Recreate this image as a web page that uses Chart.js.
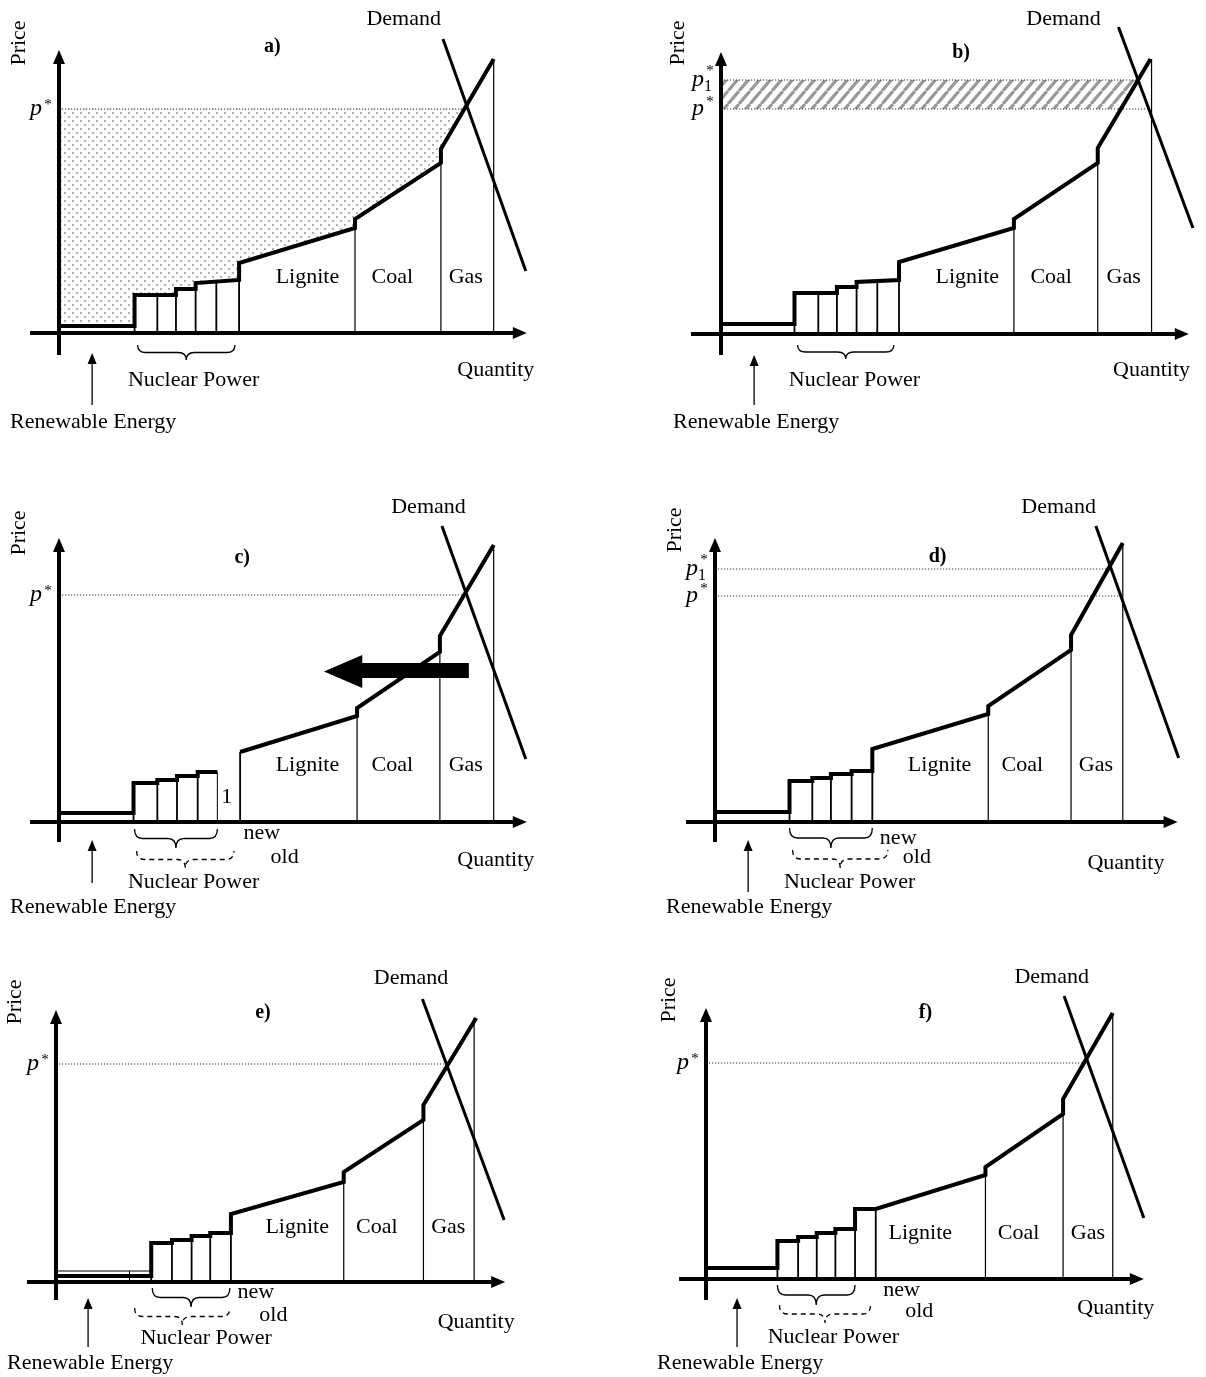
<!DOCTYPE html>
<html lang="en">
<head>
<meta charset="UTF-8">
<title>Merit order</title>
<script src="https://cdn.jsdelivr.net/npm/chart.js"></script>
<style>
  body { margin: 0; background: #fff; }
  .painel { position: relative; width: 1206px; height: 1377px; background: #fff; }
  .painel canvas { position: absolute; }
</style>
</head>
<body>
<div class="painel">
  <canvas id="chartA" width="560" height="450" style="left:0;top:0"></canvas>
  <canvas id="chartB" width="566" height="450" style="left:640px;top:0"></canvas>
  <canvas id="chartC" width="560" height="452" style="left:0;top:478px"></canvas>
  <canvas id="chartD" width="566" height="452" style="left:640px;top:478px"></canvas>
  <canvas id="chartE" width="560" height="429" style="left:0;top:948px"></canvas>
  <canvas id="chartF" width="566" height="429" style="left:640px;top:948px"></canvas>
</div>

<script>
    // supply curves [quantity, price], one per panel
    const supplyA = [[0,7],[73,7],[73,38],[113,38],[113,44],[132,44],[132,50],[174,53],[174,70],[286,105],[286,114],[369,170],[369,184],[420,274]];
    const supplyB = [[0,10],[71,10],[71,41],[112,41],[112,47],[131,47],[131,52],[172,54],[172,72],[283,106],[283,115],[364,171],[364,186],[415,275]];
    const supplyC = [[0,9],[72,9],[72,39],[95,39],[95,42],[114,42],[114,46],[134,46],[134,50],[153,50],[153,null],[175,70],[288,106],[288,114],[368,170],[368,186],[420,277]];
    const supplyD = [[0,10],[72,10],[72,41],[94,41],[94,44],[112,44],[112,48],[132,48],[132,51],[152,51],[152,73],[264,108],[264,116],[344,172],[344,187],[394,279]];
    const supplyE = [[0,6],[92,6],[92,39],[112,39],[112,42],[131,42],[131,46],[149,46],[149,49],[169,49],[169,68],[278,100],[278,110],[355,162],[355,177],[406,264]];
    const supplyF = [[0,11],[69,11],[69,38],[89,38],[89,42],[107,42],[107,46],[125,46],[125,50],[144,50],[144,70],[164,70],[270,104],[270,112],[345,165],[345,180],[393,266]];

    // demand lines
    const demandA = [[371,294],[451,62]];
    const demandB = [[384,307],[456,106]];
    const demandC = [[370,296],[451,63]];
    const demandD = [[368,296],[448,64]];
    const demandE = [[354,283],[433,62]];
    const demandF = [[346,283],[423,61]];

    // nuclear block edges [quantity, top price]
    const nuclearA = [[73,38],[95,38],[113,44],[132,50],[152,51],[174,53]];
    const nuclearB = [[71,41],[94,41],[112,47],[131,52],[151,53],[172,54]];
    const nuclearC = [[72,39],[95,42],[114,46],[134,50],[175,70]];
    const nuclearD = [[72,41],[94,44],[112,48],[132,51],[152,51]];
    const nuclearE = [[92,39],[112,42],[131,46],[149,49],[169,49]];
    const nuclearF = [[69,38],[89,42],[107,46],[125,50],[144,50],[164,70]];
    const shutC = [[153,50]];

    // lignite / coal / gas right edges
    const plantNames = ['Lignite', 'Coal', 'Gas'];
    const plantsA = [[286,105],[369,170],[420,274]];
    const plantsB = [[283,106],[364,171],[416,275]];
    const plantsC = [[288,106],[368,170],[420,277]];
    const plantsD = [[264,108],[344,172],[394,279]];
    const plantsE = [[278,100],[355,162],[404,264]];
    const plantsF = [[270,104],[345,165],[393,266]];

    // old renewable supply in e)
    const oldRenewE = [[0,11],[92,11]];
    const oldEdgeE = [[71,11]];

    // equilibrium prices and how far the dotted lines reach
    const pStarA = 224, pReachA = 390;
    const pStarB = 225, pReachB = 414, p1StarB = 254, p1ReachB = 401;
    const pStarC = 227, pReachC = 391;
    const pStarD = 226, pReachD = 393, p1StarD = 253, p1ReachD = 380;
    const pStarE = 218, pReachE = 376;
    const pStarF = 216, pReachF = 366;

    const K = 1.035; // pixels per quantity unit
    const serif = '"Liberation Serif", "Times New Roman", serif';

    function pts(a) { return a.map(([x, y]) => ({x, y})); }
    function edges(a) { return a.flatMap(([x, top]) => [{x, y: 0}, {x, y: top}, {x, y: null}]); }
    function hLine(p, reach) { return [{x: 0, y: p}, {x: reach, y: p}]; }

    function linha(data, w, extra) {
        return Object.assign({
            data: data, borderColor: '#000', borderWidth: w, pointRadius: 0,
            fill: false, tension: 0, borderJoinStyle: 'miter', spanGaps: false
        }, extra || {});
    }
    function pontilhado(data) {
        return linha(data, 1, {borderColor: '#333', borderDash: [1.2, 1.8]});
    }
    function preenche(supply, value, cor) {
        return linha(pts(supply), 1, {borderColor: 'rgba(0,0,0,0)',
            fill: {target: {value: value}, above: 'rgba(0,0,0,0)', below: cor}});
    }

    function padraoPontos() {
        const c = document.createElement('canvas');
        c.width = 8; c.height = 8;
        const g = c.getContext('2d');
        g.fillStyle = '#b0b0b0';
        g.fillRect(0, 0, 2, 2);
        g.fillRect(4, 4, 2, 2);
        return g.createPattern(c, 'repeat');
    }
    function padraoListras() {
        const c = document.createElement('canvas');
        c.width = 11; c.height = 13;
        const g = c.getContext('2d');
        g.strokeStyle = '#999';
        g.lineWidth = 3.2;
        g.beginPath();
        for (const dx of [-11, 0, 11]) { g.moveTo(dx, 13); g.lineTo(dx + 11, 0); }
        g.stroke();
        return g.createPattern(c, 'repeat');
    }

    function tri(g, a, b, c) {
        g.beginPath(); g.moveTo(a[0], a[1]); g.lineTo(b[0], b[1]); g.lineTo(c[0], c[1]); g.closePath(); g.fill();
    }
    function texto(g, s, x, y, font) {
        g.font = font || '22px ' + serif;
        g.textAlign = 'center'; g.textBaseline = 'middle';
        g.fillText(s, x, y);
    }
    function chave(g, x1, x2, yTop, yTip, tracejada) {
        const xm = (x1 + x2) / 2, ym = (yTop + yTip) / 2, r = 8;
        g.save();
        g.lineWidth = 1.3;
        g.setLineDash(tracejada ? [5, 4] : []);
        g.beginPath();
        g.moveTo(x1, yTop);
        g.quadraticCurveTo(x1, ym, x1 + r, ym);
        g.lineTo(xm - r, ym);
        g.quadraticCurveTo(xm, ym, xm, yTip);
        g.quadraticCurveTo(xm, ym, xm + r, ym);
        g.lineTo(x2 - r, ym);
        g.quadraticCurveTo(x2, ym, x2, yTop);
        g.stroke();
        g.restore();
    }

    function decor(L) {
        return {
            id: 'decor',
            afterDatasetsDraw(chart) {
                const g = chart.ctx;
                const X = v => chart.scales.x.getPixelForValue(v);
                const Y = v => chart.scales.y.getPixelForValue(v);
                g.save();
                g.fillStyle = '#000'; g.strokeStyle = '#000'; g.setLineDash([]);

                // axes
                const x0 = X(0), y0 = Y(0), xe = X(L.axisX[1]), ye = Y(L.axisY[1]);
                g.lineWidth = 4;
                g.beginPath();
                g.moveTo(X(L.axisX[0]), y0); g.lineTo(xe - 8, y0);
                g.moveTo(x0, Y(L.axisY[0])); g.lineTo(x0, ye + 8);
                g.stroke();
                tri(g, [xe, y0], [xe - 14, y0 - 6], [xe - 14, y0 + 6]);
                tri(g, [x0, ye], [x0 - 6, ye + 14], [x0 + 6, ye + 14]);

                // Price (rotated)
                g.save();
                g.translate(X(L.price[0]), Y(L.price[1]));
                g.rotate(-Math.PI / 2);
                texto(g, 'Price', 0, 0);
                g.restore();

                texto(g, L.tag[0], X(L.tag[1]), Y(L.tag[2]), 'bold 20px ' + serif);
                texto(g, 'Demand', X(L.demand[0]), Y(L.demand[1]));
                plantNames.forEach((n, i) => texto(g, n, X(L.plants[i][0]), Y(L.plants[i][1])));
                texto(g, 'Quantity', X(L.quantity[0]), Y(L.quantity[1]));
                texto(g, 'Nuclear Power', X(L.nuclear[0]), Y(L.nuclear[1]));
                texto(g, 'Renewable Energy', X(L.renew[0]), Y(L.renew[1]));
                if (L.newOld) {
                    texto(g, 'new', X(L.newOld[0]), Y(L.newOld[1]));
                    texto(g, 'old', X(L.newOld[2]), Y(L.newOld[3]));
                }
                if (L.one) texto(g, '1', X(L.one[0]), Y(L.one[1]));

                // p* labels
                L.pMarks.forEach(m => {
                    const yp = Y(m.y);
                    g.textAlign = 'center'; g.textBaseline = 'alphabetic';
                    g.font = 'italic 24px ' + serif;
                    g.fillText('p', x0 - 23, yp + 6);
                    g.font = '15px ' + serif;
                    g.fillText('*', x0 - 11, yp + m.star + 8);
                    if (m.sub) {
                        g.font = '16px ' + serif;
                        g.fillText('1', x0 - 13, yp + 11);
                    }
                });

                // renewable arrow
                const ra = L.renewArrow;
                g.lineWidth = 1.3;
                g.beginPath();
                g.moveTo(X(ra[0]), Y(ra[1])); g.lineTo(X(ra[0]), Y(ra[2]) + 8);
                g.stroke();
                tri(g, [X(ra[0]), Y(ra[2])], [X(ra[0]) - 4.5, Y(ra[2]) + 11], [X(ra[0]) + 4.5, Y(ra[2]) + 11]);

                // braces
                const b = L.brace;
                chave(g, X(b[0]), X(b[1]), Y(b[2]), Y(b[3]), false);
                if (L.brace2) {
                    const d = L.brace2;
                    chave(g, X(d[0]), X(d[1]), Y(d[2]), Y(d[3]), true);
                }

                // shift arrow in c)
                if (L.bigArrow) {
                    const a = L.bigArrow;
                    g.beginPath();
                    g.moveTo(X(a.tail), Y(a.shaft[0]));
                    g.lineTo(X(a.base), Y(a.shaft[0]));
                    g.lineTo(X(a.base), Y(a.head[0]));
                    g.lineTo(X(a.tip), Y((a.head[0] + a.head[1]) / 2));
                    g.lineTo(X(a.base), Y(a.head[1]));
                    g.lineTo(X(a.base), Y(a.shaft[1]));
                    g.lineTo(X(a.tail), Y(a.shaft[1]));
                    g.closePath();
                    g.fill();
                }
                g.restore();
            }
        };
    }

    function desenhar(L, sets) {
        const cv = document.getElementById(L.canvas);
        const W = cv.width, H = cv.height;
        return new Chart(cv, {
            type: 'line',
            data: { datasets: sets },
            options: {
                responsive: false,
                animation: false,
                devicePixelRatio: 1,
                events: [],
                layout: { padding: 0 },
                plugins: { legend: { display: false }, tooltip: { enabled: false } },
                scales: {
                    x: { type: 'linear', display: false, min: -L.ox / K, max: (W - L.ox) / K },
                    y: { type: 'linear', display: false, min: -(H - L.oy), max: L.oy }
                }
            },
            plugins: [decor(L)]
        });
    }

    const pontos = padraoPontos();
    const listras = padraoListras();

    desenhar({
        canvas: 'chartA', ox: 59, oy: 333, axisX: [-28, 452], axisY: [-22, 283],
        price: [-38, 290], tag: ['a)', 206, 286], demand: [333, 314],
        plants: [[240, 56], [322, 56], [393, 56]], quantity: [422, -37],
        nuclear: [130, -47], renew: [33, -89], renewArrow: [32, -72, -20],
        brace: [76, 170, -12, -27], pMarks: [{y: pStarA, star: -8}]
    }, [
        linha(pts(supplyA), 4), linha(pts(demandA), 3),
        linha(edges(nuclearA), 1.8), linha(edges(plantsA), 1.2),
        pontilhado(hLine(pStarA, pReachA)),
        preenche(supplyA, pStarA, pontos)
    ]);

    desenhar({
        canvas: 'chartB', ox: 81, oy: 334, axisX: [-29, 452], axisY: [-21, 282],
        price: [-41, 291], tag: ['b)', 232, 281], demand: [331, 315],
        plants: [[238, 57], [319, 57], [389, 57]], quantity: [416, -36],
        nuclear: [129, -46], renew: [34, -88], renewArrow: [32, -71, -21],
        brace: [74, 167, -11, -25],
        pMarks: [{y: p1StarB, star: -13, sub: true}, {y: pStarB, star: -11}]
    }, [
        linha(pts(supplyB), 4), linha(pts(demandB), 3),
        linha(edges(nuclearB), 1.8), linha(edges(plantsB), 1.2),
        pontilhado(hLine(p1StarB, p1ReachB)), pontilhado(hLine(pStarB, pReachB)),
        preenche(supplyB, pStarB, '#fff'),
        preenche(supplyB, p1StarB, listras)
    ]);

    desenhar({
        canvas: 'chartC', ox: 59, oy: 344, axisX: [-28, 452], axisY: [-20, 284],
        price: [-38, 289], tag: ['c)', 177, 264], demand: [357, 315],
        plants: [[240, 57], [322, 57], [393, 57]], quantity: [422, -38],
        nuclear: [130, -60], renew: [33, -85], renewArrow: [32, -61, -18],
        brace: [73, 153, -7, -26], brace2: [75, 169, -29, -46],
        newOld: [196, -11, 218, -35], one: [162, 25],
        bigArrow: {tail: 396, base: 293, tip: 256, shaft: [159, 144], head: [167, 134]},
        pMarks: [{y: pStarC, star: -8}]
    }, [
        linha(pts(supplyC), 4), linha(pts(demandC), 3),
        linha(edges(nuclearC), 1.8), linha(edges(shutC), 1), linha(edges(plantsC), 1.2),
        pontilhado(hLine(pStarC, pReachC))
    ]);

    desenhar({
        canvas: 'chartD', ox: 75, oy: 344, axisX: [-28, 447], axisY: [-20, 284],
        price: [-38, 292], tag: ['d)', 215, 265], demand: [332, 315],
        plants: [[217, 57], [297, 57], [368, 57]], quantity: [397, -41],
        nuclear: [130, -60], renew: [33, -85], renewArrow: [32, -70, -18],
        brace: [72, 152, -6, -26], brace2: [75, 167, -28, -46],
        newOld: [177, -16, 195, -35],
        pMarks: [{y: p1StarD, star: -13, sub: true}, {y: pStarD, star: -11}]
    }, [
        linha(pts(supplyD), 4), linha(pts(demandD), 3),
        linha(edges(nuclearD), 1.8), linha(edges(plantsD), 1.2),
        pontilhado(hLine(p1StarD, p1ReachD)), pontilhado(hLine(pStarD, pReachD))
    ]);

    desenhar({
        canvas: 'chartE', ox: 56, oy: 334, axisX: [-28, 434], axisY: [-18, 272],
        price: [-39, 280], tag: ['e)', 200, 269], demand: [343, 304],
        plants: [[233, 55], [310, 55], [379, 55]], quantity: [406, -40],
        nuclear: [145, -56], renew: [33, -81], renewArrow: [31, -65, -16],
        brace: [93, 168, -6, -25], brace2: [76, 168, -26, -43],
        newOld: [193, -10, 210, -33],
        pMarks: [{y: pStarE, star: -8}]
    }, [
        linha(pts(supplyE), 4), linha(pts(demandE), 3),
        linha(edges(nuclearE), 1.8), linha(edges(plantsE), 1.2),
        linha(pts(oldRenewE), 1), linha(edges(oldEdgeE), 1),
        pontilhado(hLine(pStarE, pReachE))
    ]);

    desenhar({
        canvas: 'chartF', ox: 66, oy: 331, axisX: [-26, 423], axisY: [-21, 271],
        price: [-36, 279], tag: ['f)', 212, 266], demand: [334, 302],
        plants: [[207, 46], [302, 46], [369, 46]], quantity: [396, -29],
        nuclear: [123, -58], renew: [33, -84], renewArrow: [30, -68, -19],
        brace: [69, 144, -6, -26], brace2: [71, 159, -26, -44],
        newOld: [189, -11, 206, -32],
        pMarks: [{y: pStarF, star: -8}]
    }, [
        linha(pts(supplyF), 4), linha(pts(demandF), 3),
        linha(edges(nuclearF), 1.8), linha(edges(plantsF), 1.2),
        pontilhado(hLine(pStarF, pReachF))
    ]);
</script>
</body>
</html>
